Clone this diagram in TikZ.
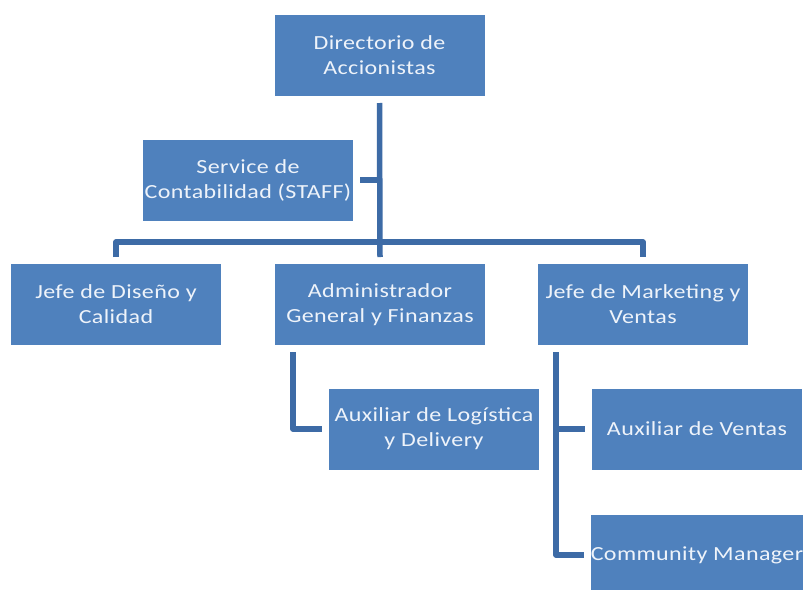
\documentclass[tikz,border=0pt]{standalone}
\usepackage{fontspec}
\setmainfont{Carlito}[FakeStretch=1.2,LetterSpace=2]
\definecolor{cajaazul}{HTML}{4F81BD}
\definecolor{lineaazul}{HTML}{3D6BA6}
\definecolor{textoclaro}{HTML}{EEF3FA}

\tikzset{
  cargo/.style={rectangle,fill=cajaazul,text=textoclaro,align=center,
    minimum width=210pt,minimum height=81pt,inner sep=0pt,outer sep=7pt,
    font=\fontsize{20}{25}\selectfont},
  linea/.style={draw=lineaazul,line width=5.5pt,line join=round}
}

\begin{document}
\begin{tikzpicture}[x=1pt,y=-1pt]
\useasboundingbox (0,0) rectangle (803,589);
\fill[white] (0,0) rectangle (803,589);
\clip (0,0) rectangle (803,589);
% Directorio y staff
\node[cargo] (dir) at (379.5,55.5) {Directorio de\\Accionistas};
\node[cargo] (staff) at (248,180) {Service de\\Contabilidad (STAFF)};
% Jefaturas
\node[cargo] (jdis) at (116,304.5) {Jefe de Diseño y\\Calidad};
\node[cargo] (admin) at (380,304.5) {Administrador\\General y Finanzas};
\node[cargo] (jmkt) at (643,304.5) {Jefe de Marketing y\\Ventas};
% Auxiliares
\node[cargo] (auxlog) at (434,429) {Auxiliar de Logística\\y Delivery};
\node[cargo] (auxven) at (697,429) {Auxiliar de Ventas};
\node[cargo] (cm) at (697,555) {Community Manager};
% Lineas de mando
\coordinate (bus) at (380,242);
\coordinate (ta) at (293,0);
\coordinate (tm) at (556,0);
\draw[linea] (dir.south) -- (admin.north);
\draw[linea] (staff.east) -- (staff.east -| dir.south);
\draw[linea] (jdis.north) |- (bus) -| (jmkt.north);
\draw[linea] (ta |- admin.south) |- (auxlog.west);
\draw[linea] (tm |- jmkt.south) |- (cm.west);
\draw[linea] (tm |- auxven.west) -- (auxven.west);
\end{tikzpicture}
\end{document}
